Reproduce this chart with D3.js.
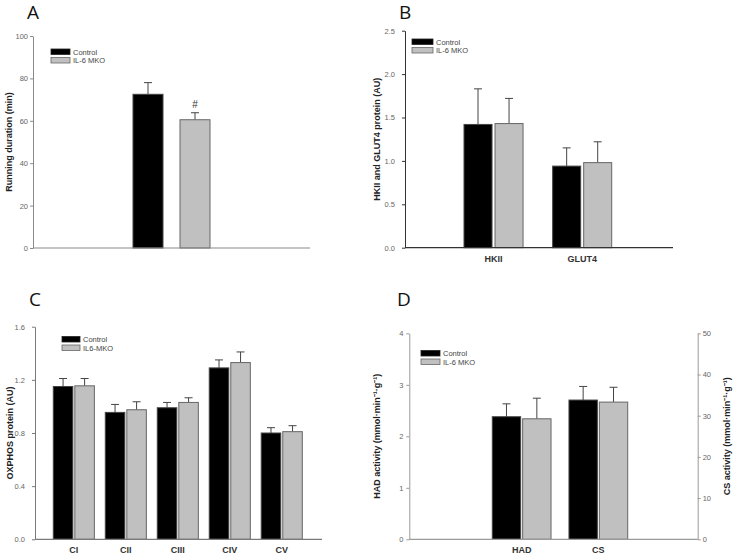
<!DOCTYPE html>
<html lang="en">
<head>
<meta charset="UTF-8">
<title>IL-6 MKO panels</title>
<script src="https://d3js.org/d3.v7.min.js"></script>
<style>
  body { margin: 0; background: #fff; }
  text { font-family: "Liberation Sans", Arial, sans-serif; }
</style>
</head>
<body>
<script>
// ---- data ----
const groups = ["Control", "IL-6 MKO"];

// A: running duration (min)
const runCats = ["run"];
const runControl = [72.5], runControlSem = [5.5];
const runKO = [60.5], runKOSem = [3.3];
const runTicks = [0, 20, 40, 60, 80, 100];

// B: HKII and GLUT4 protein (AU)
const protCats = ["HKII", "GLUT4"];
const protControl = [1.42, 0.94], protControlSem = [0.41, 0.21];
const protKO = [1.43, 0.98], protKOSem = [0.29, 0.24];
const protTicks = [0, 0.5, 1.0, 1.5, 2.0, 2.5];

// C: OXPHOS protein (AU)
const oxCats = ["CI", "CII", "CIII", "CIV", "CV"];
const oxControl = [1.15, 0.955, 0.99, 1.29, 0.80];
const oxControlSem = [0.06, 0.06, 0.04, 0.06, 0.04];
const oxKO = [1.155, 0.975, 1.03, 1.33, 0.81];
const oxKOSem = [0.055, 0.06, 0.035, 0.08, 0.045];
const oxTicks = [0, 0.4, 0.8, 1.2, 1.6];

// D: HAD (left axis) and CS (right axis) activity
const enzCats = ["HAD", "CS"];
const enzControl = [2.38, 33.8], enzControlSem = [0.25, 3.3];
const enzKO = [2.34, 33.3], enzKOSem = [0.40, 3.6];
const hadTicks = [0, 1, 2, 3, 4];
const csTicks = [0, 10, 20, 30, 40, 50];

const svg = d3.select("body").append("svg")
  .attr("width", 733)
  .attr("height", 559);

const units = "(mmol\u00B7min\u207B\u00B9\u00B7g\u207B\u00B9)";

function yAxis(g, scale, ticks, fmt, color, side, pad) {
  const ax = (side === "right" ? d3.axisRight(scale) : d3.axisLeft(scale))
    .tickValues(ticks).tickFormat(fmt).tickSize(3).tickSizeOuter(0).tickPadding(pad);
  g.call(ax);
  g.select(".domain").attr("stroke", color);
  g.selectAll(".tick line").attr("stroke", color);
  g.selectAll(".tick text").attr("fill", "#666").attr("font-size", 7.5)
    .style("font-family", "'Liberation Sans', Arial, sans-serif");
}

function drawPanel(c) {
  const g = svg.append("g");
  const y = d3.scaleLinear().domain(c.yDomain).range([c.yBot, c.yTop]);
  const x = d3.scaleBand().domain(c.cats).range(c.bandRange)
    .paddingInner(c.padInner).paddingOuter(0);
  const bw = (x.bandwidth() - c.gap) / 2;
  const yFor = i => (c.yRightFor && c.yRightFor(i)) ? c.yRight : y;

  // panel letter
  g.append("text").attr("x", c.letterX).attr("y", c.letterY)
    .attr("font-size", 19).attr("fill", "#111")
    .style("font-family", "'Open Sans', sans-serif")
    .text(c.letter);

  // bars
  const series = [
    { vals: c.ctrl, sem: c.ctrlSem, fill: "#000", stroke: "#444", off: 0 },
    { vals: c.ko, sem: c.koSem, fill: "#c0c0c0", stroke: "#666", off: bw + c.gap }
  ];
  series.forEach(s => {
    c.cats.forEach((cat, i) => {
      const ys = yFor(i);
      const bx = x(cat) + s.off;
      const cx = bx + bw / 2;
      const top = ys(s.vals[i]), errTop = ys(s.vals[i] + s.sem[i]);
      g.append("line").attr("x1", cx).attr("x2", cx)
        .attr("y1", top).attr("y2", errTop)
        .attr("stroke", "#444").attr("stroke-width", 1);
      g.append("line").attr("x1", cx - 4).attr("x2", cx + 4)
        .attr("y1", errTop).attr("y2", errTop)
        .attr("stroke", "#444").attr("stroke-width", 1);
      g.append("rect").attr("x", bx).attr("y", top)
        .attr("width", bw).attr("height", ys(ys.domain()[0]) - top)
        .attr("fill", s.fill).attr("stroke", s.stroke).attr("stroke-width", 1);
    });
  });

  // x axis line
  g.append("line").attr("x1", c.x0).attr("x2", c.x1)
    .attr("y1", c.yBot).attr("y2", c.yBot)
    .attr("stroke", c.axisColor).attr("stroke-width", 1.2);

  // category labels
  if (c.showCats) {
    c.cats.forEach(cat => {
      g.append("text").attr("x", x(cat) + x.bandwidth() / 2).attr("y", c.yBot + 14)
        .attr("text-anchor", "middle").attr("font-size", 9).attr("font-weight", "bold")
        .attr("fill", "#333").text(cat);
    });
  }

  // y axis
  yAxis(g.append("g").attr("transform", `translate(${c.x0},0)`),
    y, c.yTicks, c.fmt, c.axisColor, "left", c.tickPad);
  if (c.yRight) {
    yAxis(g.append("g").attr("transform", `translate(${c.x1},0)`),
      c.yRight, c.yRightTicks, d3.format("d"), c.axisColor, "right", 2);
    g.append("text")
      .attr("transform", `translate(${c.yRightLabelX},${(c.yTop + c.yBot) / 2}) rotate(-90)`)
      .attr("text-anchor", "middle").attr("font-size", 9).attr("font-weight", "bold")
      .attr("fill", "#222").text(c.yRightLabel);
  }
  g.append("text")
    .attr("transform", `translate(${c.yLabelX},${(c.yTop + c.yBot) / 2}) rotate(-90)`)
    .attr("text-anchor", "middle").attr("font-size", 9).attr("font-weight", "bold")
    .attr("fill", "#222").text(c.yLabel);

  // legend
  const lg = g.append("g").attr("transform", `translate(${c.legX},${c.legY})`);
  c.legLabels.forEach((lab, i) => {
    lg.append("rect").attr("x", 0).attr("y", i * 8.5)
      .attr("width", c.legW).attr("height", 5.5)
      .attr("fill", i === 0 ? "#000" : "#c0c0c0")
      .attr("stroke", i === 0 ? "#222" : "#666").attr("stroke-width", 0.8);
    lg.append("text").attr("x", c.legW + 3).attr("y", i * 8.5 + 5.5)
      .attr("font-size", 7.5).attr("fill", "#444").text(lab);
  });
  return { g, x, y, bw };
}

// A
const pA = drawPanel({
  letter: "A", letterX: 27, letterY: 19,
  cats: runCats, ctrl: runControl, ctrlSem: runControlSem, ko: runKO, koSem: runKOSem,
  yDomain: [0, 100], yTicks: runTicks, fmt: d3.format("d"), tickPad: 2,
  x0: 33, x1: 310, yTop: 36, yBot: 248,
  bandRange: [133, 210], padInner: 0, gap: 17,
  axisColor: "#8a8a8a", showCats: false,
  yLabel: "Running duration (min)", yLabelX: 12,
  legX: 51, legY: 49, legW: 19, legLabels: groups
});
// significance mark above IL-6 MKO bar
pA.g.append("text")
  .attr("x", pA.x(runCats[0]) + pA.bw + 17 + pA.bw / 2)
  .attr("y", pA.y(runKO[0] + runKOSem[0]) - 5)
  .attr("text-anchor", "middle").attr("font-size", 10).attr("fill", "#333").text("#");

// B
drawPanel({
  letter: "B", letterX: 399, letterY: 19,
  cats: protCats, ctrl: protControl, ctrlSem: protControlSem, ko: protKO, koSem: protKOSem,
  yDomain: [0, 2.5], yTicks: protTicks, fmt: d3.format(".1f"), tickPad: 7,
  x0: 405, x1: 673, yTop: 30.7, yBot: 247.7,
  bandRange: [464, 611.7], padInner: 0.334, gap: 3,
  axisColor: "#333", showCats: true,
  yLabel: "HKII and GLUT4 protein (AU)", yLabelX: 380,
  legX: 412, legY: 39, legW: 21, legLabels: groups
});

// C
drawPanel({
  letter: "C", letterX: 29, letterY: 306,
  cats: oxCats, ctrl: oxControl, ctrlSem: oxControlSem, ko: oxKO, koSem: oxKOSem,
  yDomain: [0, 1.6], yTicks: oxTicks, fmt: d3.format(".1f"), tickPad: 7,
  x0: 35, x1: 322, yTop: 326.7, yBot: 539.3,
  bandRange: [53.3, 302.3], padInner: 0.21, gap: 2,
  axisColor: "#7a7a7a", showCats: true,
  yLabel: "OXPHOS protein (AU)", yLabelX: 13,
  legX: 62, legY: 336.5, legW: 18, legLabels: ["Control", "IL6-MKO"]
});

// D
const csScale = d3.scaleLinear().domain([0, 50]).range([539.3, 333.3]);
drawPanel({
  letter: "D", letterX: 397, letterY: 306,
  cats: enzCats, ctrl: enzControl, ctrlSem: enzControlSem, ko: enzKO, koSem: enzKOSem,
  yDomain: [0, 4], yTicks: hadTicks, fmt: d3.format("d"), tickPad: 3,
  x0: 409.3, x1: 697.7, yTop: 333.3, yBot: 539.3,
  bandRange: [492.3, 627.7], padInner: 0.234, gap: 2,
  axisColor: "#9a9a9a", showCats: true,
  yLabel: "HAD activity " + units, yLabelX: 380,
  yRight: csScale, yRightTicks: csTicks, yRightFor: i => enzCats[i] === "CS",
  yRightLabel: "CS activity " + units, yRightLabelX: 730,
  legX: 421, legY: 350.5, legW: 19, legLabels: groups
});
</script>
</body>
</html>
